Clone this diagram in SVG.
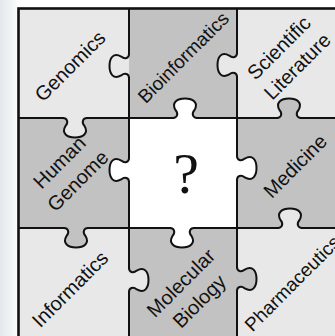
<svg xmlns="http://www.w3.org/2000/svg" xmlns:xlink="http://www.w3.org/1999/xlink" width="335" height="336" viewBox="0 0 335 336">
<style>
.light{fill:#e8e8e8}
.dark{fill:#c2c2c2}
.white{fill:#ffffff}
.ln{fill:none;stroke:#111;stroke-width:2;stroke-linecap:round;stroke-linejoin:round}
.lbl{font-family:"Liberation Sans",Arial,sans-serif;font-size:20px;fill:#111;text-anchor:middle}
.q{font-family:"Liberation Serif","Times New Roman",serif;font-size:58px;fill:#111;text-anchor:middle}
</style>
<defs>
<linearGradient id="side" x1="0" y1="0" x2="1" y2="0">
<stop offset="0" stop-color="#e3e8ea"/>
<stop offset="0.85" stop-color="#f6f8f9"/>
<stop offset="1" stop-color="#ffffff"/>
</linearGradient>
<path id="knobF" d="M0,-12 C0,-8 4,-6.2 7.8,-9.4 C15.6,-14 19.5,-7.8 19.5,0 C19.5,7.8 15.6,14 7.8,9.4 C4,6.2 0,8 0,12 Z"/>
<path id="knobS" d="M0,-12 C0,-8 4,-6.2 7.8,-9.4 C15.6,-14 19.5,-7.8 19.5,0 C19.5,7.8 15.6,14 7.8,9.4 C4,6.2 0,8 0,12"/>
</defs>
<rect x="0" y="0" width="335" height="336" fill="#ffffff"/>
<rect x="0" y="0" width="18" height="336" fill="url(#side)"/>

<g id="bioinformatics">
<rect class="dark" x="129" y="9" width="108" height="109"/>
<text class="lbl" style="font-size:19px" transform="translate(183,57) rotate(-45)" y="7">Bioinformatics</text>
</g>
<g id="scientific-literature">
<rect class="light" x="237" y="9" width="110" height="109"/>
<use xlink:href="#knobF" class="light" transform="translate(237,65) scale(-1,1)"/>
<text class="lbl" transform="translate(288,57) rotate(-45)"><tspan x="0" y="-6">Scientific</tspan><tspan x="0" y="20">Literature</tspan></text>
</g>
<g id="medicine">
<rect class="dark" x="237" y="118" width="110" height="110"/>
<use xlink:href="#knobF" class="dark" transform="translate(289,118) rotate(-90)"/>
<text class="lbl" transform="translate(295,166) rotate(-45)" y="7">Medicine</text>
</g>
<g id="pharmaceutics">
<rect class="light" x="237" y="228" width="110" height="110"/>
<use xlink:href="#knobF" class="light" transform="translate(290,228) rotate(-90)"/>
<text class="lbl" style="font-size:19px" transform="translate(292,283) rotate(-45)" y="7">Pharmaceutics</text>
</g>
<g id="molecular-biology">
<rect class="dark" x="129" y="228" width="108" height="110"/>
<use xlink:href="#knobF" class="dark" transform="translate(237,279)"/>
<text class="lbl" transform="translate(190,292) rotate(-45)"><tspan x="0" y="-6">Molecular</tspan><tspan x="0" y="20">Biology</tspan></text>
</g>
<g id="informatics">
<rect class="light" x="19" y="228" width="110" height="110"/>
<use xlink:href="#knobF" class="light" transform="translate(129,280)"/>
<text class="lbl" transform="translate(70,289) rotate(-45)" y="7">Informatics</text>
</g>
<g id="human-genome">
<rect class="dark" x="19" y="118" width="110" height="110"/>
<use xlink:href="#knobF" class="dark" transform="translate(76,228) rotate(90)"/>
<text class="lbl" transform="translate(68.5,171.5) rotate(-45)"><tspan x="0" y="-6">Human</tspan><tspan x="0" y="20">Genome</tspan></text>
</g>
<g id="genomics">
<rect class="light" x="19" y="9" width="110" height="109"/>
<use xlink:href="#knobF" class="light" transform="translate(75,118) rotate(90)"/>
<text class="lbl" transform="translate(70,66) rotate(-45)" y="7">Genomics</text>
</g>
<g id="center">
<rect class="white" x="129" y="118" width="108" height="110"/>
<use xlink:href="#knobF" class="white" transform="translate(185,118) rotate(-90)"/>
<use xlink:href="#knobF" class="white" transform="translate(129,170) scale(-1,1)"/>
<use xlink:href="#knobF" class="white" transform="translate(237,168)"/>
<use xlink:href="#knobF" class="white" transform="translate(182,228) rotate(90)"/>
<text class="q" x="186" y="193">?</text>
</g>

<g id="connectors">
<rect x="18.5" y="8.5" width="340" height="340" fill="none" stroke="#111" stroke-width="2.6"/>
<path class="ln" d="M129,9 V54 M129,78 V158 M129,182 V268 M129,292 V340"/>
<path class="ln" d="M237,9 V53 M237,77 V156 M237,180 V267 M237,291 V340"/>
<path class="ln" d="M19,118 H63 M87,118 H173 M197,118 H277 M301,118 H347"/>
<path class="ln" d="M19,228 H64 M88,228 H170 M194,228 H278 M302,228 H347"/>
<use xlink:href="#knobS" class="ln" transform="translate(129,66) scale(-1,1)"/>
<use xlink:href="#knobS" class="ln" transform="translate(129,170) scale(-1,1)"/>
<use xlink:href="#knobS" class="ln" transform="translate(129,280)"/>
<use xlink:href="#knobS" class="ln" transform="translate(237,65) scale(-1,1)"/>
<use xlink:href="#knobS" class="ln" transform="translate(237,168)"/>
<use xlink:href="#knobS" class="ln" transform="translate(237,279)"/>
<use xlink:href="#knobS" class="ln" transform="translate(75,118) rotate(90)"/>
<use xlink:href="#knobS" class="ln" transform="translate(185,118) rotate(-90)"/>
<use xlink:href="#knobS" class="ln" transform="translate(289,118) rotate(-90)"/>
<use xlink:href="#knobS" class="ln" transform="translate(76,228) rotate(90)"/>
<use xlink:href="#knobS" class="ln" transform="translate(182,228) rotate(90)"/>
<use xlink:href="#knobS" class="ln" transform="translate(290,228) rotate(-90)"/>
</g>
</svg>
